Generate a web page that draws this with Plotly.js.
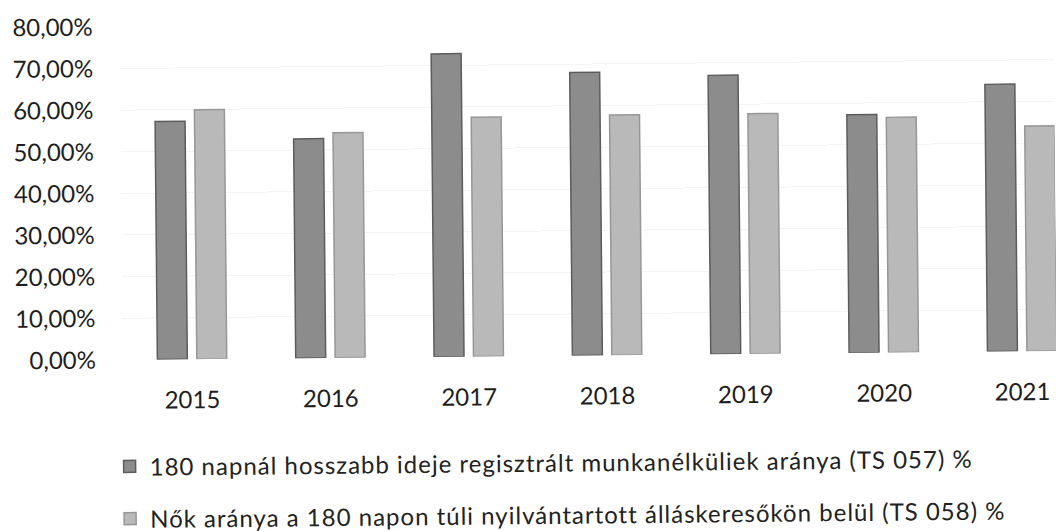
<!DOCTYPE html>
<html>
<head>
<meta charset="utf-8">
<script src="https://cdn.plot.ly/plotly-3.0.1.min.js"></script>
<style>
  html, body { margin: 0; padding: 0; background: #ffffff; overflow: hidden; }
  #chart { width: 1056px; height: 531px; transform: rotate(-0.55deg); transform-origin: 528px 265px; }
  .legendtext { letter-spacing: 1px; }
</style>
</head>
<body>
<div id="chart"></div>
<script>
const years = ['2015', '2016', '2017', '2018', '2019', '2020', '2021'];
const seriesNames = [
  '180 napnál hosszabb ideje regisztrált munkanélküliek aránya (TS 057) %',
  'Nők aránya a 180 napon túli nyilvántartott álláskeresőkön belül (TS 058) %'
];
const ts057 = [0.572, 0.527, 0.728, 0.680, 0.670, 0.572, 0.642];
const ts058 = [0.599, 0.541, 0.575, 0.577, 0.577, 0.565, 0.541];
const yTicks = [0, 0.1, 0.2, 0.3, 0.4, 0.5, 0.6, 0.7, 0.8];

const FONT = 'Lato, "Open Sans", "DejaVu Sans", sans-serif';

const traces = [
  {
    type: 'bar', x: years, y: ts057, name: seriesNames[0], legendgroup: 'a',
    marker: { color: '#8c8c8c', line: { color: '#5c5c5c', width: 1.5 } },
    hoverinfo: 'skip'
  },
  {
    type: 'bar', x: years, y: ts058, name: seriesNames[1], legendgroup: 'b',
    marker: { color: '#b9b9b9', line: { color: '#979797', width: 1.5 } },
    hoverinfo: 'skip'
  }
];

const W = 1056, H = 531;
const mLeft = 122.35, mTop = 22.5, mBottom = H - 355.7;
const catW = 138.3;
const rMax = -0.5 + (W - mLeft) / catW;

const layout = {
  width: W, height: H,
  margin: { l: mLeft, r: 0, t: mTop, b: mBottom, pad: 0, autoexpand: false },
  paper_bgcolor: '#ffffff', plot_bgcolor: '#ffffff',
  separators: ', ',
  barmode: 'group',
  bargap: 0.43,
  bargroupgap: 0.24,
  font: { family: FONT, color: '#222222' },
  showlegend: true,
  xaxis: {
    type: 'category',
    range: [-0.5, rMax],
    automargin: false,
    tickangle: 0,
    showgrid: false, zeroline: false, showline: false,
    ticks: '',
    tickfont: { family: FONT, size: 24, color: '#1e1e1e' },
    ticklabelstandoff: 24,
    fixedrange: true
  },
  yaxis: {
    range: [0, 0.8],
    automargin: false,
    tickvals: yTicks,
    tickformat: '.2%',
    showgrid: true, gridcolor: '#f4f4f4', gridwidth: 1,
    zeroline: false, showline: false, ticks: '',
    tickfont: { family: FONT, size: 24, color: '#1e1e1e' },
    ticklabelstandoff: 26,
    fixedrange: true
  },
  legend: {
    xref: 'container', yref: 'container',
    x: 0.102, xanchor: 'left',
    y: 0.1705, yanchor: 'top',
    orientation: 'v',
    traceorder: 'grouped',
    tracegroupgap: 18,
    font: { family: FONT, size: 24, color: '#222222' },
    bgcolor: 'rgba(0,0,0,0)'
  }
};

Plotly.newPlot('chart', traces, layout, { staticPlot: true, displayModeBar: false });
</script>
</body>
</html>
